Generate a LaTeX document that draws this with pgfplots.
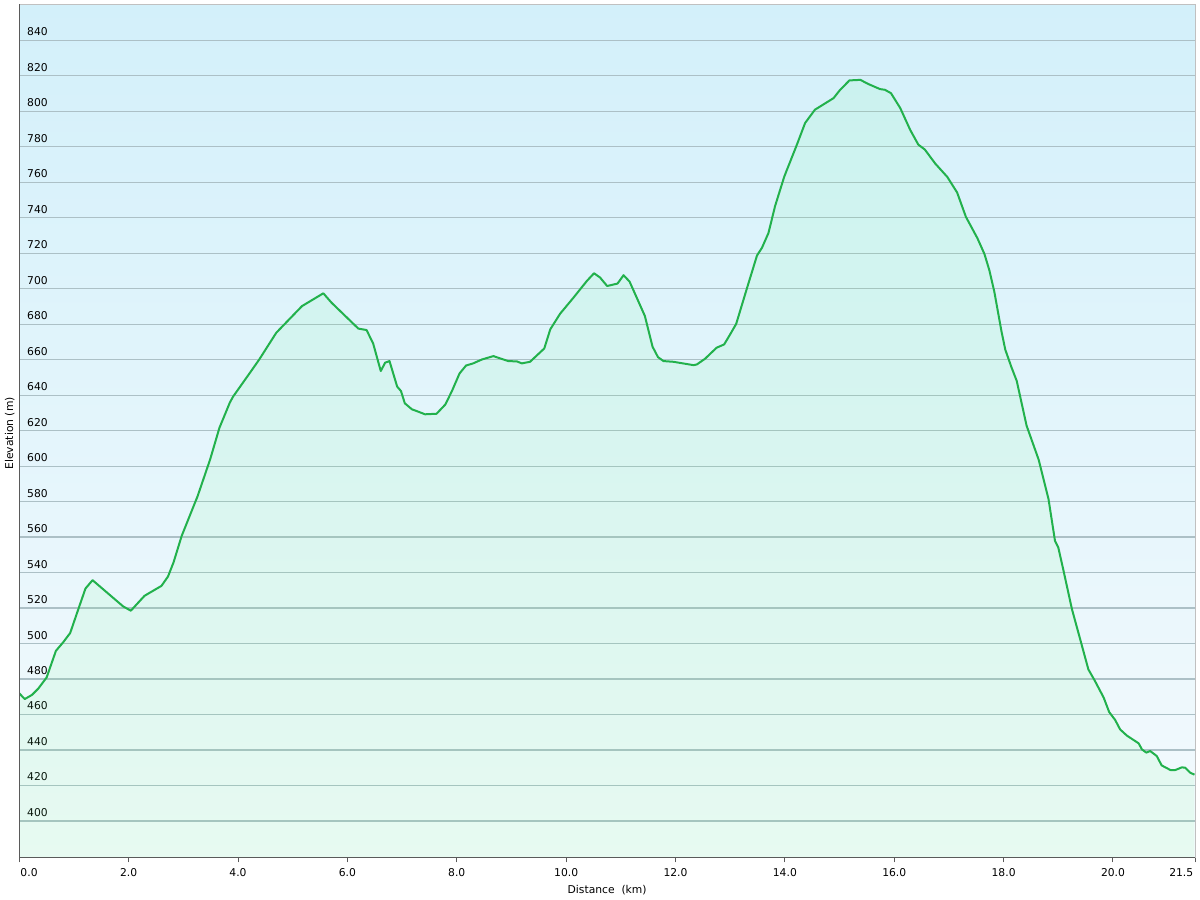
\documentclass[border=0pt]{standalone}
\usepackage{pgfplots}
\pgfplotsset{compat=1.18}
\usepackage{fontspec}
\setmainfont{DejaVu Sans}
\definecolor{linegreen}{RGB}{34,177,76}
\definecolor{gridc}{RGB}{172,192,198}
\definecolor{bgtop}{RGB}{211,240,250}
\definecolor{bgbot}{RGB}{244,250,253}
\definecolor{fillc}{RGB}{100,255,130}
\definecolor{axdark}{RGB}{90,90,90}
\definecolor{axlight}{RGB}{192,192,192}

\pgfplotstableread{
km elev
0.00 471.9
0.10 468.7
0.23 471.0
0.35 474.7
0.50 480.9
0.67 495.9
0.80 500.6
0.93 505.9
1.08 519.4
1.21 531.0
1.34 535.7
1.90 520.9
2.04 518.5
2.29 526.9
2.60 532.5
2.72 537.8
2.82 545.7
2.97 560.7
3.26 583.0
3.49 603.8
3.66 621.6
3.85 635.8
3.91 639.2
4.22 652.7
4.39 660.2
4.70 675.2
5.17 690.2
5.56 697.4
5.71 692.1
6.20 677.5
6.35 676.7
6.47 669.2
6.61 653.6
6.69 658.3
6.77 659.2
6.91 644.8
6.98 642.3
7.05 635.4
7.18 632.0
7.26 631.1
7.42 629.2
7.63 629.5
7.79 634.7
7.91 642.2
8.05 652.2
8.17 656.7
8.30 657.9
8.46 660.1
8.67 662.0
8.94 659.2
9.10 659.0
9.19 657.9
9.34 658.8
9.60 666.3
9.71 677.1
9.89 685.9
10.13 694.8
10.38 704.4
10.51 708.7
10.62 706.3
10.75 701.5
10.94 702.9
11.05 707.6
11.16 704.0
11.29 695.0
11.44 684.6
11.58 667.3
11.68 661.4
11.78 659.2
11.96 658.8
12.33 656.9
12.39 657.3
12.54 660.5
12.75 666.7
12.89 668.6
13.00 674.3
13.11 680.2
13.30 699.6
13.49 718.7
13.58 723.0
13.70 731.4
13.82 746.5
13.99 763.3
14.22 781.2
14.37 793.4
14.55 800.9
14.89 807.4
15.00 811.7
15.18 817.4
15.38 817.7
15.53 815.3
15.74 812.5
15.83 812.1
15.94 810.2
16.11 801.8
16.29 789.6
16.44 781.2
16.56 778.4
16.75 770.5
16.97 763.0
17.15 754.2
17.31 740.5
17.52 728.5
17.65 719.5
17.74 710.3
17.83 698.3
17.96 676.1
18.03 665.7
18.14 656.0
18.24 648.0
18.42 622.8
18.64 603.7
18.82 581.6
18.94 557.8
19.00 554.1
19.09 541.8
19.25 519.3
19.40 502.4
19.55 485.4
19.67 478.9
19.83 469.5
19.93 461.4
20.04 456.9
20.13 451.6
20.25 448.2
20.47 443.7
20.53 440.3
20.61 438.5
20.68 439.4
20.80 436.6
20.89 431.3
21.05 428.7
21.14 428.7
21.26 430.2
21.32 430.0
21.41 427.2
21.49 426.1
}\profile

\begin{document}
\begin{tikzpicture}[font=\fontsize{10.8}{13}\selectfont]
\useasboundingbox (-19.3bp,-42.3bp) rectangle (1180.7bp,857.3bp);
\begin{axis}[
  at={(0,0)}, anchor=south west,
  scale only axis, width=1175.7bp, height=853bp,
  xmin=0, xmax=21.5, ymin=379.5, ymax=860.3,
  axis background/.style={shade, top color=bgtop, bottom color=bgbot},
  axis line style={draw=axlight, line width=1bp},
  xtick={0,2,...,20,21.5},
  xticklabels={{\makebox[0pt][l]{\kern1.2bp 0.0}},2.0,4.0,6.0,8.0,10.0,12.0,14.0,16.0,18.0,20.0,{\makebox[0pt][r]{21.5\kern1.8bp}}},
  xtick pos=bottom, ytick pos=left,
  ytick={400,420,...,840},
  ymajorgrids, xmajorgrids=false,
  major grid style={draw=gridc, line width=1.2bp},
  tick align=outside, major tick length=5bp,
  xtick style={draw=axdark, line width=1bp},
  ytick style={draw=none},
  /pgf/number format/assume math mode=true,
  xticklabel style={anchor=base, inner sep=0pt, yshift=-14.2bp, font=\fontsize{10.8}{13}\selectfont},
  yticklabel style={anchor=base west, inner sep=0pt, xshift=12.7bp, yshift=4.5bp, font=\fontsize{10.8}{13}\selectfont},
  xlabel={Distance\ \ (km)},
  ylabel={Elevation (m)},
  xlabel style={at={(axis description cs:0.5,0)}, anchor=base, inner sep=0pt, yshift=-36.6bp, font=\fontsize{10.8}{13}\selectfont},
  ylabel style={at={(axis description cs:-0.00536,0.497)}, anchor=base, inner sep=0pt, font=\fontsize{10.8}{13}\selectfont},
]
\addplot[draw=none, fill=fillc, fill opacity=0.09] table[x=km, y=elev] {\profile} \closedcycle;
\addplot[linegreen, line width=2bp, line join=round] table[x=km, y=elev] {\profile};
\end{axis}
\draw[axdark, line width=1.4bp] (0,853bp) -- (0,0) -- (1175.7bp,0);
\end{tikzpicture}
\end{document}
